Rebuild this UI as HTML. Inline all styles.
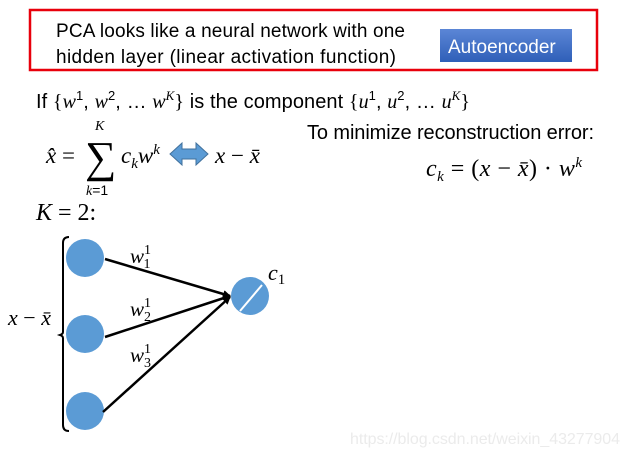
<!DOCTYPE html>
<html><head><style>
body{margin:0;background:#fff}
svg text{font-family:"Liberation Sans",sans-serif}
.m{font-family:"Liberation Serif","DejaVu Serif",serif;font-style:italic}
.r{font-family:"Liberation Serif","DejaVu Serif",serif}
</style></head><body>
<svg width="629" height="455" viewBox="0 0 629 455" xmlns="http://www.w3.org/2000/svg">
<defs><linearGradient id="g" x1="0" y1="0" x2="0" y2="1"><stop offset="0" stop-color="#5b86d6"/><stop offset="1" stop-color="#2f5fb8"/></linearGradient>
<marker id="a" markerWidth="8" markerHeight="8" refX="7" refY="4" orient="auto" markerUnits="userSpaceOnUse"><path d="M0,0 L8,4 L0,8z" fill="#000"/></marker></defs>
<rect x="30" y="10" width="567" height="60" fill="none" stroke="#e8000b" stroke-width="2.5"/>
<text x="56" y="37" font-size="19" textLength="349">PCA looks like a neural network with one</text>
<text x="56" y="63" font-size="19" textLength="340">hidden layer (linear activation function)</text>
<rect x="440" y="29" width="132" height="33" fill="url(#g)"/>
<text x="448" y="53" font-size="19" fill="#fff">Autoencoder</text>
<text x="36" y="108" font-size="20" textLength="434">If <tspan class="r">{</tspan><tspan class="m">w</tspan><tspan font-size="13" dy="-8">1</tspan><tspan dy="8">, </tspan><tspan class="m">w</tspan><tspan font-size="13" dy="-8">2</tspan><tspan dy="8">, … </tspan><tspan class="m">w</tspan><tspan class="m" font-size="13" dy="-8">K</tspan><tspan class="r" dy="8">}</tspan> is the component <tspan class="r">{</tspan><tspan class="m">u</tspan><tspan font-size="13" dy="-8">1</tspan><tspan dy="8">, </tspan><tspan class="m">u</tspan><tspan font-size="13" dy="-8">2</tspan><tspan dy="8">, … </tspan><tspan class="m">u</tspan><tspan class="m" font-size="13" dy="-8">K</tspan><tspan class="r" dy="8">}</tspan></text>
<text class="m" x="95" y="130" font-size="14">K</text>
<text class="m" x="46" y="163" font-size="23">x̂ <tspan class="r" font-style="normal">=</tspan></text>
<text class="r" x="85" y="172" font-size="44">∑</text>
<text x="86" y="195" font-size="14"><tspan class="m">k</tspan>=1</text>
<text class="m" x="121" y="163" font-size="23">c<tspan font-size="15" dy="5">k</tspan><tspan dy="-5">w</tspan><tspan font-size="15" dy="-9">k</tspan></text>
<path d="M170,154 L182,143 L182,149 L196,149 L196,143 L208,154 L196,165 L196,159 L182,159 L182,165z" fill="#5b9bd5" stroke="#41719c" stroke-width="1"/>
<text class="m" x="215" y="163" font-size="23">x <tspan class="r" font-style="normal">−</tspan> x̄</text>
<text x="307" y="139" font-size="20" textLength="287">To minimize reconstruction error:</text>
<text class="m" x="426" y="176" font-size="24" textLength="156">c<tspan font-size="15" dy="5">k</tspan><tspan class="r" font-style="normal" dy="-5"> = (</tspan>x <tspan class="r" font-style="normal">−</tspan> x̄<tspan class="r" font-style="normal">) · </tspan>w<tspan font-size="15" dy="-9">k</tspan></text>
<text class="m" x="36" y="220" font-size="24">K <tspan class="r" font-style="normal">= 2:</tspan></text>
<path d="M69,237 Q63,237 63,243 L63,332 Q63,334 60,335 Q63,336 63,338 L63,425 Q63,431 69,431" fill="none" stroke="#000" stroke-width="2"/>
<circle cx="85" cy="258" r="19" fill="#5b9bd5"/>
<circle cx="85" cy="334" r="19" fill="#5b9bd5"/>
<circle cx="85" cy="411" r="19" fill="#5b9bd5"/>
<circle cx="250" cy="296" r="19" fill="#5b9bd5"/>
<line x1="240" y1="311" x2="262" y2="285" stroke="#fff" stroke-width="2"/>
<line x1="105" y1="259" x2="230" y2="296" stroke="#000" stroke-width="2.5" marker-end="url(#a)"/>
<line x1="105" y1="337" x2="230" y2="296" stroke="#000" stroke-width="2.5" marker-end="url(#a)"/>
<line x1="103" y1="412" x2="230" y2="297" stroke="#000" stroke-width="2.5" marker-end="url(#a)"/>
<text class="m" x="130" y="263" font-size="21">w<tspan class="r" font-style="normal" font-size="14" dy="-9">1</tspan><tspan class="r" font-style="normal" font-size="14" dx="-7" dy="14">1</tspan></text>
<text class="m" x="130" y="316" font-size="21">w<tspan class="r" font-style="normal" font-size="14" dy="-9">1</tspan><tspan class="r" font-style="normal" font-size="14" dx="-7" dy="14">2</tspan></text>
<text class="m" x="130" y="362" font-size="21">w<tspan class="r" font-style="normal" font-size="14" dy="-9">1</tspan><tspan class="r" font-style="normal" font-size="14" dx="-7" dy="14">3</tspan></text>
<text class="m" x="268" y="280" font-size="22">c<tspan class="r" font-style="normal" font-size="15" dy="4">1</tspan></text>
<text class="m" x="8" y="325" font-size="22">x <tspan class="r" font-style="normal">−</tspan> x̄</text>
<text x="350" y="444" font-size="16" fill="#ebebeb" textLength="270">https://blog.csdn.net/weixin_43277904</text>
</svg>
</body></html>
